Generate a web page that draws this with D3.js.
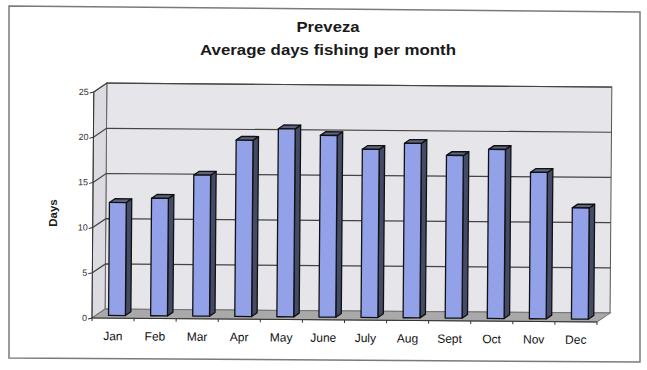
<!DOCTYPE html>
<html>
<head>
<meta charset="utf-8">
<script src="https://cdn.jsdelivr.net/npm/d3@7/dist/d3.min.js"></script>
<style>
  html, body { margin: 0; padding: 0; background: #fff; }
  svg { display: block; font-family: "Liberation Sans", Arial, sans-serif; }
</style>
</head>
<body>
<svg id="chart" width="647" height="370"></svg>
<script>
// Monthly averages of fishing days, Preveza
const months = ["Jan", "Feb", "Mar", "Apr", "May", "June", "July", "Aug", "Sept", "Oct", "Nov", "Dec"];
const days = [12.5, 13.0, 15.6, 19.5, 20.8, 20.1, 18.6, 19.3, 18.0, 18.7, 16.2, 12.3];
const yTicks = [0, 5, 10, 15, 20, 25];
const titleLines = ["Preveza", "Average days fishing per month"];
const yTitle = "Days";

const svg = d3.select("#chart");

// outer frame
svg.append("path")
  .attr("d", "M9,6 L640,12 L640,362 L9,358 Z")
  .attr("fill", "#fff")
  .attr("stroke", "#7a7a7a")
  .attr("stroke-width", 1.5);

// titles
const titleWidths = [63, 256];
svg.selectAll("text.title")
  .data(titleLines)
  .join("text")
  .attr("class", "title")
  .attr("x", 328)
  .attr("y", (d, i) => 32 + i * 22.5)
  .attr("text-anchor", "middle")
  .attr("font-size", 15)
  .attr("font-weight", "bold")
  .attr("fill", "#1a1a1a")
  .attr("textLength", (d, i) => titleWidths[i])
  .attr("lengthAdjust", "spacingAndGlyphs")
  .text(d => d);

// plot area with oblique depth
const x0 = 92, x1 = 597, yBase = 318, yTop = 92;
const DX = 13, DY = 9;           // depth offset of the back wall
const dFront = 0.3, dBack = 0.72; // column depth range

const x = d3.scaleBand().domain(months).range([x0, x1]).padding(0);
const y = d3.scaleLinear().domain([0, 25]).range([yBase, yTop]);

const g = svg.append("g")
  .attr("transform", `rotate(0.45, ${x0}, ${yBase})`);

// back wall
g.append("path")
  .attr("d", `M${x0 + DX},${y(25) - DY} L${x1 + DX},${y(25) - DY} L${x1 + DX},${y(0) - DY} L${x0 + DX},${y(0) - DY} Z`)
  .attr("fill", "#e6e5ea")
  .attr("stroke", "#555")
  .attr("stroke-width", 1);

// side wall
g.append("path")
  .attr("d", `M${x0},${y(25)} L${x0 + DX},${y(25) - DY} L${x0 + DX},${y(0) - DY} L${x0},${y(0)} Z`)
  .attr("fill", "#dcdbe2")
  .attr("stroke", "#666")
  .attr("stroke-width", 1);

// floor
g.append("path")
  .attr("d", `M${x0},${y(0)} L${x1},${y(0)} L${x1 + DX},${y(0) - DY} L${x0 + DX},${y(0) - DY} Z`)
  .attr("fill", "#a9a9a9")
  .attr("stroke", "#777")
  .attr("stroke-width", 1);

// gridlines on back and side walls
const grid = g.append("g").attr("stroke", "#444").attr("stroke-width", 1.2).attr("fill", "none");
yTicks.filter(t => t > 0).forEach(t => {
  grid.append("path")
    .attr("d", `M${x0},${y(t)} L${x0 + DX},${y(t) - DY} L${x1 + DX},${y(t) - DY}`);
});

// columns
const bw = x.bandwidth() * 0.4;
const bars = g.selectAll("g.bar")
  .data(months.map((m, i) => ({ m, v: days[i] })))
  .join("g")
  .attr("class", "bar")
  .attr("stroke", "#111")
  .attr("stroke-width", 1.3)
  .attr("stroke-linejoin", "round");

bars.each(function (d) {
  const sel = d3.select(this);
  const cx = x(d.m) + x.bandwidth() / 2;
  const lf = cx - bw / 2 + dFront * DX, rf = cx + bw / 2 + dFront * DX;
  const tf = y(d.v) - dFront * DY, bf = y(0) - dFront * DY;
  const ox = (dBack - dFront) * DX, oy = (dBack - dFront) * DY;
  // right side face
  sel.append("path")
    .attr("d", `M${rf},${tf} L${rf + ox},${tf - oy} L${rf + ox},${bf - oy} L${rf},${bf} Z`)
    .attr("fill", "#444b66");
  // top face
  sel.append("path")
    .attr("d", `M${lf},${tf} L${lf + ox},${tf - oy} L${rf + ox},${tf - oy} L${rf},${tf} Z`)
    .attr("fill", "#5c647e");
  // front face
  sel.append("rect")
    .attr("x", lf).attr("y", tf)
    .attr("width", rf - lf).attr("height", bf - tf)
    .attr("fill", "#93a1e8");
});

// value axis
const yAxis = g.append("g").attr("stroke", "#333").attr("stroke-width", 1);
yAxis.append("line").attr("x1", x0).attr("x2", x0).attr("y1", y(0)).attr("y2", y(25));
yAxis.selectAll("line.tick").data(yTicks).join("line")
  .attr("class", "tick")
  .attr("x1", x0 - 4).attr("x2", x0)
  .attr("y1", d => y(d) + 1).attr("y2", d => y(d));
g.selectAll("text.ytick").data(yTicks).join("text")
  .attr("class", "ytick")
  .attr("x", x0 - 5)
  .attr("y", d => y(d) + 3)
  .attr("text-anchor", "end")
  .attr("font-size", 9)
  .attr("fill", "#333")
  .text(d => d);

// category axis
const xAxis = g.append("g").attr("stroke", "#333").attr("stroke-width", 1);
xAxis.append("line").attr("x1", x0).attr("x2", x1).attr("y1", y(0)).attr("y2", y(0));
xAxis.selectAll("line.tick").data(months.concat(["end"])).join("line")
  .attr("class", "tick")
  .attr("x1", (d, i) => x0 + i * x.bandwidth())
  .attr("x2", (d, i) => x0 + i * x.bandwidth())
  .attr("y1", y(0)).attr("y2", y(0) + 3);
g.selectAll("text.xlab").data(months).join("text")
  .attr("class", "xlab")
  .attr("x", d => x(d) + x.bandwidth() / 2)
  .attr("y", y(0) + 22)
  .attr("text-anchor", "middle")
  .attr("font-size", 12)
  .attr("fill", "#111")
  .text(d => d);

// axis title
svg.append("text")
  .attr("transform", "translate(57,213) rotate(-90)")
  .attr("text-anchor", "middle")
  .attr("font-size", 11.5)
  .attr("font-weight", "bold")
  .attr("fill", "#1a1a1a")
  .text(yTitle);
</script>
</body>
</html>
